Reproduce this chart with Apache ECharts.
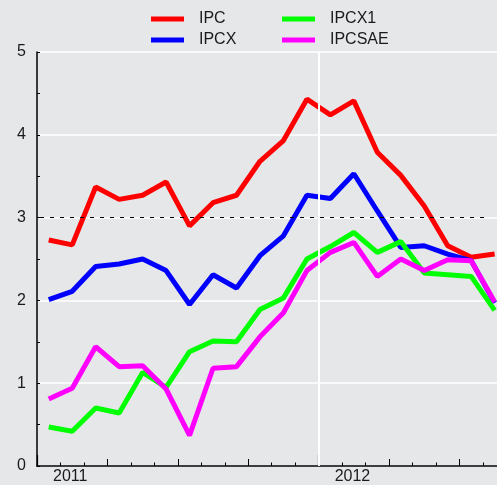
<!DOCTYPE html>
<html>
<head>
<meta charset="utf-8">
<script src="https://cdn.jsdelivr.net/npm/echarts@6/dist/echarts.min.js"></script>
<style>
  html, body { margin: 0; padding: 0; background: #e6e7e9; }
  #chart { width: 497px; height: 485px; }
</style>
</head>
<body>
<div id="chart"></div>
<script>
// monthly series, Jan 2011 - Aug 2012
var months = ['2011-01','2011-02','2011-03','2011-04','2011-05','2011-06','2011-07','2011-08','2011-09','2011-10','2011-11','2011-12',
              '2012-01','2012-02','2012-03','2012-04','2012-05','2012-06','2012-07','2012-08'];
var ipc    = [2.73,2.67,3.37,3.22,3.27,3.43,2.90,3.18,3.27,3.68,3.93,4.43,4.24,4.41,3.79,3.51,3.14,2.66,2.52,2.56];
var ipcx   = [2.01,2.11,2.41,2.44,2.50,2.36,1.95,2.31,2.15,2.54,2.78,3.27,3.23,3.53,3.08,2.64,2.66,2.56,2.48,1.97];
var ipcx1  = [0.47,0.42,0.70,0.64,1.13,0.95,1.38,1.51,1.50,1.89,2.03,2.50,2.65,2.82,2.58,2.71,2.33,2.31,2.29,1.88];
var ipcsae = [0.81,0.94,1.44,1.20,1.21,0.93,0.37,1.18,1.20,1.56,1.85,2.36,2.58,2.70,2.29,2.50,2.36,2.49,2.48,1.98];
var firstYear = 2011;
var targetLine = 3;

var font = 'Liberation Sans, Arial, sans-serif';

// month index -> x value, point sits mid-month
function toPoints(vals) {
    return vals.map(function (v, i) { return [i + 0.5, v]; });
}

var myChart = echarts.init(document.getElementById('chart'));

var legendBase = {
    orient: 'vertical',
    top: 6,
    padding: 5,
    itemWidth: 33,
    itemHeight: 5,
    itemGap: 5,
    icon: 'rect',
    textStyle: { fontFamily: font, fontSize: 16, color: '#1a1a1a', lineHeight: 16, padding: [0, 0, 0, 10] }
};

myChart.setOption({
    backgroundColor: '#e6e7e9',
    animation: false,
    legend: [
        Object.assign({ left: 146, data: ['IPC', 'IPCX'] }, legendBase),
        Object.assign({ left: 277, data: ['IPCX1', 'IPCSAE'] }, legendBase)
    ],
    grid: { left: 37, right: 0, top: 52, bottom: 18 },
    xAxis: [
        {
            type: 'value', min: 0, max: 19.6, interval: 3,
            axisLine: { lineStyle: { color: '#000', width: 1.5 } },
            axisTick: { inside: true, length: 7, lineStyle: { color: '#000' } },
            minorTick: { show: true, splitNumber: 3, length: 3.5, lineStyle: { color: '#000' } },
            axisLabel: { show: false },
            splitLine: { show: false }
        },
        {
            // year ticks and labels
            type: 'value', min: 0, max: 19.6, interval: 12, position: 'bottom',
            axisLine: { show: false },
            axisTick: { inside: true, length: 11, lineStyle: { color: '#000', width: 1.2 } },
            axisLabel: {
                showMinLabel: true, showMaxLabel: false,
                fontFamily: font, fontSize: 16, color: '#1a1a1a',
                align: 'left', margin: 3, padding: [0, 0, 0, 16],
                formatter: function (v) { return String(firstYear + v / 12); }
            },
            splitLine: { show: false }
        }
    ],
    yAxis: {
        type: 'value', min: 0, max: 5, interval: 1,
        axisLine: { show: true, lineStyle: { color: '#000', width: 1.5 } },
        axisTick: { show: true, inside: true, length: 3, lineStyle: { color: '#000' } },
        minorTick: { show: true, splitNumber: 2, length: 3, lineStyle: { color: '#000' } },
        axisLabel: { fontFamily: font, fontSize: 16, color: '#1a1a1a', margin: 11 },
        splitLine: { show: true, lineStyle: { color: '#ffffff', width: 1.5 } }
    },
    series: [
        {
            name: 'ref', type: 'line', data: [], z: 1, silent: true,
            markLine: {
                silent: true, symbol: 'none', label: { show: false },
                data: [
                    [{ coord: [12, 0], lineStyle: { color: '#ffffff', width: 2, type: 'solid' } }, { coord: [12, 5] }],
                    [{ coord: [0.13, targetLine], lineStyle: { color: '#000', width: 1, type: [4, 6] } }, { coord: [19.3, targetLine] }]
                ]
            }
        },
        { name: 'IPC', type: 'line', data: toPoints(ipc), color: '#ff0000', showSymbol: false, z: 3, lineStyle: { width: 5 } },
        { name: 'IPCX', type: 'line', data: toPoints(ipcx), color: '#0000ff', showSymbol: false, z: 3, lineStyle: { width: 5 } },
        { name: 'IPCX1', type: 'line', data: toPoints(ipcx1), color: '#00ff00', showSymbol: false, z: 3, lineStyle: { width: 5 } },
        { name: 'IPCSAE', type: 'line', data: toPoints(ipcsae), color: '#ff00ff', showSymbol: false, z: 3, lineStyle: { width: 5 } }
    ]
});
</script>
</body>
</html>
